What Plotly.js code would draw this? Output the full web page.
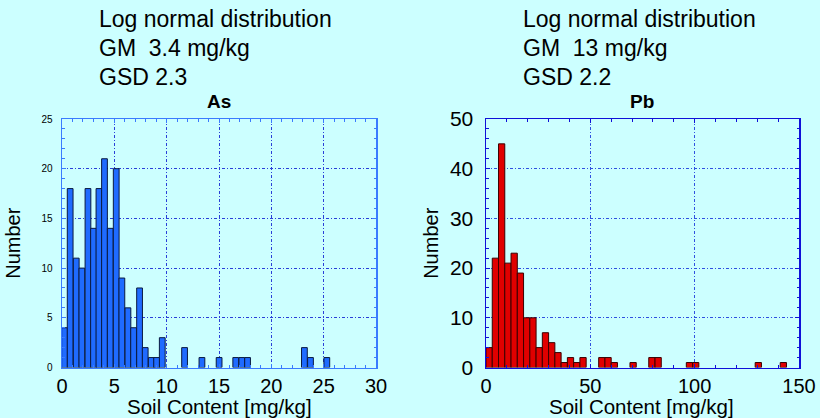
<!DOCTYPE html>
<html>
<head>
<meta charset="utf-8">
<script src="https://cdn.plot.ly/plotly-3.0.1.min.js"></script>
<style>html,body{margin:0;padding:0;background:#ccffff;}#chart{width:820px;height:418px;}</style>
</head>
<body>
<div id="chart"></div>
<script>
// As histogram: bin centres [mg/kg] and counts
const asCenters = [0.24, 0.78, 1.36, 1.9, 2.48, 3.01, 3.53, 4.06, 4.61, 5.18, 5.72, 6.3, 6.84, 7.41, 7.95, 8.53, 9.04, 9.58, 11.71, 13.37, 15.01, 16.6, 17.18, 17.73, 23.16, 23.74, 25.3];
const asCounts  = [4, 18, 11, 10, 18, 14, 18, 21, 14, 20, 9, 6, 4, 8, 2, 1, 1, 3, 2, 1, 1, 1, 1, 1, 2, 1, 1];
// Pb histogram: bin centres [mg/kg] and counts
const pbCenters = [1.5, 4.5, 7.5, 10.5, 13.5, 16.5, 19.5, 22.5, 25.5, 28.5, 31.5, 34.5, 37.5, 40.5, 43.5, 46.5, 55.5, 58.5, 61.5, 70.5, 79.5, 82.5, 97.5, 100.5, 130.5, 142.5];
const pbCounts  = [4, 22, 45, 21, 23, 19, 10, 10, 4, 7, 5, 3, 1, 2, 1, 2, 2, 2, 1, 1, 2, 2, 1, 1, 1, 1];

const asTitle = 'As', pbTitle = 'Pb';
const asInfo = ['Log normal distribution', 'GM  3.4 mg/kg', 'GSD 2.3'];
const pbInfo = ['Log normal distribution', 'GM  13 mg/kg', 'GSD 2.2'];
const xTitle = 'Soil Content [mg/kg]';
const yTitle = 'Number';

const W = 820, H = 418;
const FONT = 'Liberation Sans, Arial, sans-serif';
const px = x => x / W;
const py = y => 1 - y / H;

const traces = [
  {type: 'bar', x: asCenters, y: asCounts, width: 0.55, xaxis: 'x', yaxis: 'y',
   marker: {color: '#1f6bff', line: {color: '#0a1a40', width: 1}}, showlegend: false, hoverinfo: 'x+y'},
  {type: 'bar', x: pbCenters, y: pbCounts, width: 3, xaxis: 'x2', yaxis: 'y2',
   marker: {color: '#e00000', line: {color: '#3a0000', width: 1}}, showlegend: false, hoverinfo: 'x+y'}
];

function axisCommon(color, gridColor) {
  return {
    showline: true, linecolor: color, linewidth: 1.5, mirror: 'allticks',
    ticks: 'inside', ticklen: 4, tickcolor: color, tickwidth: 1,
    showgrid: true, gridcolor: gridColor, gridwidth: 1, griddash: '3px,2px,1px,2px',
    zeroline: false, fixedrange: true
  };
}

const leftCol = '#3a7bff', leftGrid = '#2a3fd8';
const rightCol = '#1010d8', rightGrid = '#3050e0';

const layout = {
  width: W, height: H,
  paper_bgcolor: '#ccffff', plot_bgcolor: '#ccffff',
  margin: {l: 0, r: 0, t: 0, b: 0},
  bargap: 0,
  font: {family: FONT, color: '#000'},
  xaxis: Object.assign(axisCommon(leftCol, leftGrid), {
    domain: [px(62), px(376)], range: [0, 30], dtick: 5, anchor: 'y',
    minor: {dtick: 1, ticks: 'inside', ticklen: 2.5, tickcolor: leftCol, showgrid: false},
    tickfont: {size: 20, family: FONT}, ticklabelstandoff: 0
  }),
  yaxis: Object.assign(axisCommon(leftCol, leftGrid), {
    domain: [py(367.5), py(119)], range: [0, 25], dtick: 5, anchor: 'x',
    minor: {dtick: 1, ticks: 'inside', ticklen: 2.5, tickcolor: leftCol, showgrid: false},
    tickfont: {size: 10, family: FONT}, ticklabelstandoff: 6,
    title: {text: yTitle, font: {size: 20, family: FONT}, standoff: 15}
  }),
  xaxis2: Object.assign(axisCommon(rightCol, rightGrid), {
    domain: [px(486), px(799)], range: [0, 150], dtick: 50, anchor: 'y2',
    minor: {dtick: 10, ticks: 'inside', ticklen: 2.5, tickcolor: rightCol, showgrid: false},
    tickfont: {size: 20, family: FONT}, ticklabelstandoff: 0
  }),
  yaxis2: Object.assign(axisCommon(rightCol, rightGrid), {
    domain: [py(367.5), py(119)], range: [0, 50], dtick: 10, anchor: 'x2',
    minor: {dtick: 2, ticks: 'inside', ticklen: 2.5, tickcolor: rightCol, showgrid: false},
    tickfont: {size: 21, family: FONT}, ticklabelstandoff: 7,
    title: {text: yTitle, font: {size: 20, family: FONT}, standoff: 6}
  }),
  annotations: []
};

function addInfo(lines, x0) {
  lines.forEach((t, i) => {
    layout.annotations.push({text: t, xref: 'paper', yref: 'paper', x: px(x0), y: py(19 + i * 29),
      xanchor: 'left', yanchor: 'middle', showarrow: false, font: {size: 23, family: FONT, color: '#000'}});
  });
}
addInfo(asInfo, 97);
addInfo(pbInfo, 521);
layout.annotations.push({text: '<b>' + asTitle + '</b>', xref: 'paper', yref: 'paper', x: px(219), y: py(101),
  xanchor: 'center', yanchor: 'middle', showarrow: false, font: {size: 19, family: FONT}});
layout.annotations.push({text: '<b>' + pbTitle + '</b>', xref: 'paper', yref: 'paper', x: px(642), y: py(101),
  xanchor: 'center', yanchor: 'middle', showarrow: false, font: {size: 19, family: FONT}});
[219, 641].forEach(cx => {
  layout.annotations.push({text: xTitle, xref: 'paper', yref: 'paper', x: px(cx), y: py(406),
    xanchor: 'center', yanchor: 'middle', showarrow: false, font: {size: 20.5, family: FONT}});
});

Plotly.newPlot('chart', traces, layout, {displayModeBar: false, staticPlot: true});
</script>
</body>
</html>
